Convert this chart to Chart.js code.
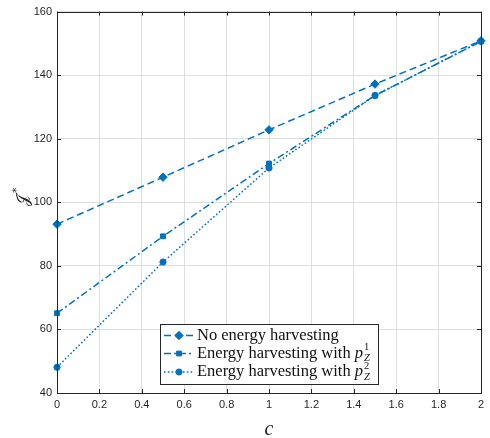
<!DOCTYPE html>
<html>
<head>
<meta charset="utf-8">
<script src="https://cdn.jsdelivr.net/npm/chart.js@4.4.1/dist/chart.umd.min.js"></script>
<style>
  html, body { margin: 0; padding: 0; background: #fff; }
  #wrap { width: 490px; height: 438px; position: relative; }
</style>
</head>
<body>
<div id="wrap"><canvas id="c" width="490" height="438"></canvas></div>
<script>
// Cost-weight values c and the resulting optimum J*
const cValues = [0, 0.5, 1, 1.5, 2];
const noHarvesting = [93.1, 107.9, 122.8, 137.2, 150.8];
const harvestingP1 = [65.1, 89.3, 112.2, 133.6, 150.6];
const harvestingP2 = [48.1, 81.2, 110.8, 133.6, 150.7];
const xTicks = [0, 0.2, 0.4, 0.6, 0.8, 1, 1.2, 1.4, 1.6, 1.8, 2];
const yTicks = [40, 60, 80, 100, 120, 140, 160];
const seriesNames = ['No energy harvesting', 'Energy harvesting with ', 'Energy harvesting with '];

const BLUE = '#0072BD';
const AXIS = '#262626';
const GRID = '#dedede';

function pts(ys) { return cValues.map((x, i) => ({ x: x, y: ys[i] })); }

const styles = [
  { dash: [7, 4], point: 'rectRot', r: 4.2 },
  { dash: [7, 3, 2, 3], point: 'rect', r: 3.4 },
  { dash: [1.6, 2.2], point: 'circle', r: 3.1 }
];

const datasets = [noHarvesting, harvestingP1, harvestingP2].map((ys, i) => ({
  label: seriesNames[i],
  data: pts(ys),
  borderColor: BLUE,
  backgroundColor: BLUE,
  borderWidth: 1.5,
  borderDash: styles[i].dash,
  pointStyle: styles[i].point,
  pointRadius: styles[i].r,
  pointBorderWidth: 1,
  tension: 0,
  clip: false
}));

// Box frame, inward ticks, axis titles and the legend
const decorations = {
  id: 'decorations',
  afterDatasetsDraw(chart) {
    const ctx = chart.ctx;
    const a = chart.chartArea;
    const xs = chart.scales.x, ys = chart.scales.y;
    ctx.save();
    ctx.strokeStyle = AXIS;
    ctx.lineWidth = 1;
    ctx.strokeRect(Math.round(a.left) + 0.5, Math.round(a.top) + 0.5,
                   Math.round(a.right - a.left), Math.round(a.bottom - a.top));
    const tl = 4;
    ctx.beginPath();
    xTicks.forEach(v => {
      const px = Math.round(xs.getPixelForValue(v)) + 0.5;
      ctx.moveTo(px, a.bottom); ctx.lineTo(px, a.bottom - tl);
      ctx.moveTo(px, a.top); ctx.lineTo(px, a.top + tl);
    });
    yTicks.forEach(v => {
      const py = Math.round(ys.getPixelForValue(v)) + 0.5;
      ctx.moveTo(a.left, py); ctx.lineTo(a.left + tl, py);
      ctx.moveTo(a.right, py); ctx.lineTo(a.right - tl, py);
    });
    ctx.stroke();

    // axis titles
    ctx.fillStyle = AXIS;
    ctx.textAlign = 'center';
    ctx.textBaseline = 'middle';
    ctx.font = 'italic 20px "Liberation Serif", serif';
    ctx.fillText('c', (a.left + a.right) / 2, 430);
    ctx.save();
    ctx.translate(24, 200);
    ctx.rotate(-Math.PI / 2);
    ctx.font = '16px "DejaVu Serif", "Liberation Serif", serif';
    ctx.textAlign = 'center';
    ctx.fillText('\u{1D4A5}', 0, 0);
    ctx.font = '11px "DejaVu Sans", sans-serif';
    ctx.textAlign = 'left';
    ctx.fillText('*', 7, -7);
    ctx.restore();

    // legend
    const lx = 160, ly = 324, lw = 218, lh = 60;
    ctx.fillStyle = '#fff';
    ctx.fillRect(lx, ly, lw, lh);
    ctx.strokeStyle = AXIS;
    ctx.lineWidth = 1;
    ctx.strokeRect(lx + 0.5, ly + 0.5, lw, lh);
    const rows = [335.5, 353.5, 372];
    chart.data.datasets.forEach((ds, i) => {
      const y = rows[i];
      ctx.strokeStyle = BLUE;
      ctx.lineWidth = 1.5;
      ctx.setLineDash(ds.borderDash);
      ctx.beginPath();
      ctx.moveTo(164, y); ctx.lineTo(194, y);
      ctx.stroke();
      ctx.setLineDash([]);
      ctx.fillStyle = BLUE;
      ctx.strokeStyle = BLUE;
      ctx.lineWidth = 1;
      Chart.helpers.drawPoint(ctx, {
        pointStyle: ds.pointStyle, radius: ds.pointRadius, borderWidth: 1, rotation: 0
      }, 179, y);
      ctx.fillStyle = '#111';
      ctx.textAlign = 'left';
      ctx.textBaseline = 'middle';
      ctx.font = '16.5px "Liberation Serif", serif';
      ctx.fillText(ds.label, 197, y);
      if (i > 0) {
        let x0 = 197 + ctx.measureText(ds.label).width;
        ctx.font = 'italic 16.5px "Liberation Serif", serif';
        ctx.fillText('p', x0, y);
        x0 += ctx.measureText('p').width + 1;
        ctx.font = '10.5px "Liberation Serif", serif';
        ctx.fillText(String(i), x0, y - 6);
        ctx.font = 'italic 10.5px "Liberation Serif", serif';
        ctx.fillText('Z', x0, y + 5);
      }
    });
    ctx.restore();
  }
};

new Chart(document.getElementById('c'), {
  type: 'line',
  data: { datasets: datasets },
  options: {
    responsive: false,
    animation: false,
    layout: { padding: { top: 9, right: 9, left: 0, bottom: 0 } },
    plugins: { legend: { display: false }, tooltip: { enabled: false } },
    scales: {
      x: {
        type: 'linear',
        min: 0, max: 2,
        afterBuildTicks(s) { s.ticks = xTicks.map(v => ({ value: v })); },
        afterFit(s) { s.height = 45; },
        grid: { color: GRID, lineWidth: 1, drawTicks: false },
        border: { display: false },
        ticks: {
          color: AXIS, padding: 5,
          font: { family: '"Liberation Sans", Arial, sans-serif', size: 11 },
          maxRotation: 0,
          callback: v => String(v)
        }
      },
      y: {
        type: 'linear',
        min: 40, max: 160,
        afterBuildTicks(s) { s.ticks = yTicks.map(v => ({ value: v })); },
        afterFit(s) { s.width = 57; },
        grid: { color: GRID, lineWidth: 1, drawTicks: false },
        border: { display: false },
        ticks: {
          color: AXIS, padding: 5,
          font: { family: '"Liberation Sans", Arial, sans-serif', size: 11 },
          callback: v => String(v)
        }
      }
    }
  },
  plugins: [decorations]
});
</script>
</body>
</html>
